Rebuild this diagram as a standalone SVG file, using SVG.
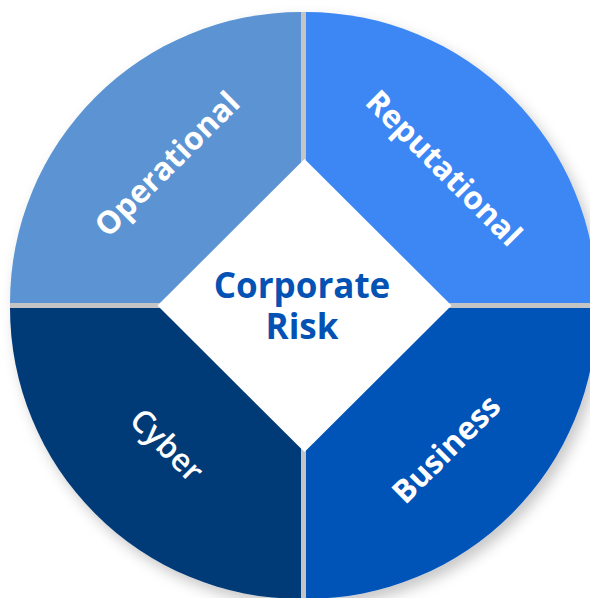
<svg xmlns="http://www.w3.org/2000/svg" width="590" height="598" viewBox="0 0 590 598">
<defs>
<filter id="sh" x="-20%" y="-20%" width="140%" height="140%">
<feDropShadow dx="5" dy="7" stdDeviation="7" flood-color="#000" flood-opacity="0.22"/>
</filter>
<style>
.lbl{font-family:"Open Sans","Noto Sans",sans-serif;font-weight:700;fill:#fff;font-size:31.5px;text-anchor:middle;dominant-baseline:central}
.ctr{font-family:"Open Sans","Noto Sans",sans-serif;font-weight:700;fill:#0352b4;font-size:35px;text-anchor:middle}
</style>
</defs>
<rect width="590" height="598" fill="#fff"/>
<g filter="url(#sh)">
<g id="operational"><path d="M301 303 H10 A291 291 0 0 1 301 12 Z" fill="#5b93d3"/></g>
<g id="reputational"><path d="M306 303 V12 A291 291 0 0 1 597 303 Z" fill="#3d87f5"/></g>
<g id="cyber"><path d="M301 308 V599 A291 291 0 0 1 10 308 Z" fill="#013a78"/></g>
<g id="business"><path d="M306 308 H597 A291 291 0 0 1 306 599 Z" fill="#0353b7"/></g>
</g>
<g id="gaps" fill="#c4c4c4">
<rect x="301" y="12" width="5" height="587"/>
<rect x="10" y="303" width="587" height="5"/>
</g>
<g id="center">
<path d="M304.5 159 L451.5 305.5 L304.5 452 L157.5 305.5 Z" fill="#fff"/>
<text class="ctr" x="302" y="297.5">Corporate<tspan x="302" dy="41">Risk</tspan></text>
</g>
<g id="labels">
<text class="lbl" transform="translate(166 163) rotate(-45)">Operational</text>
<text class="lbl" transform="translate(445 167) rotate(45)">Reputational</text>
<text class="lbl" style="font-weight:600" transform="translate(168 444) rotate(45)">Cyber</text>
<text class="lbl" transform="translate(445 448) rotate(-45)">Business</text>
</g>
</svg>
